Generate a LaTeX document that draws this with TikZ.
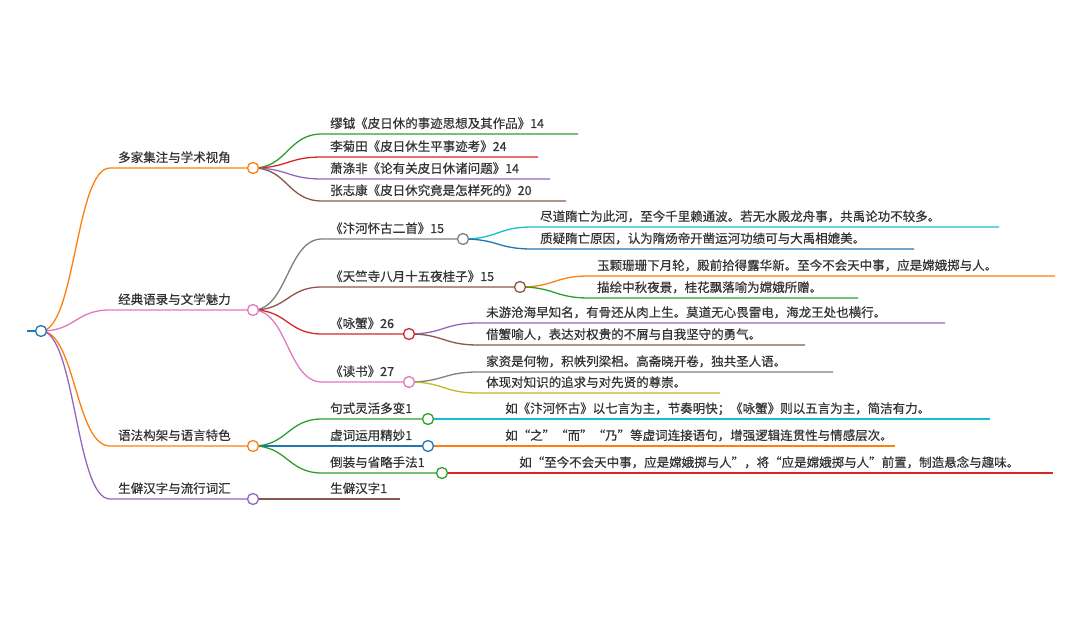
\documentclass[tikz,border=0pt]{standalone}
\usepackage{fontspec}
\setmainfont{Noto Sans CJK SC}[FakeBold=0.5]
\definecolor{cblue}{HTML}{1F77B4}
\definecolor{corange}{HTML}{FF7F0E}
\definecolor{cgreen}{HTML}{2CA02C}
\definecolor{cred}{HTML}{D62728}
\definecolor{cpurple}{HTML}{9467BD}
\definecolor{cbrown}{HTML}{8C564B}
\definecolor{cpink}{HTML}{E377C2}
\definecolor{cgray}{HTML}{7F7F7F}
\definecolor{colive}{HTML}{BCBD22}
\definecolor{ccyan}{HTML}{17BECF}
\definecolor{ink}{HTML}{333333}
\begin{document}
\begin{tikzpicture}[x=1pt,y=-1pt,
  edge/.style={line width=1.3pt},
  lbl/.style={anchor=base west,inner sep=0pt,text=ink,font=\fontsize{12.5}{14}\selectfont},
  dot/.style={circle,draw=#1,fill=white,line width=1.3pt,minimum size=11pt,inner sep=0pt}]
\useasboundingbox (0,0) rectangle (1080,617);

% root
\coordinate (r0) at (27,331);
\coordinate (r) at (41,331);
\draw[edge,cblue] (r0) -- (r);

% first level
\coordinate (a0) at (110,168); \coordinate (a) at (253,168);
\coordinate (b0) at (110,310); \coordinate (b) at (253,310);
\coordinate (c0) at (110,446); \coordinate (c) at (253,446);
\coordinate (d0) at (110,499); \coordinate (d) at (253,499);
\draw[edge,corange] (r) .. controls +(34.5,0) and +(-34.5,0) .. (a0) -- (a);
\draw[edge,cpink] (r) .. controls +(34.5,0) and +(-34.5,0) .. (b0) -- (b);
\draw[edge,corange] (r) .. controls +(34.5,0) and +(-34.5,0) .. (c0) -- (c);
\draw[edge,cpurple] (r) .. controls +(34.5,0) and +(-34.5,0) .. (d0) -- (d);
\node[lbl] (ta) at ([shift={(8,-6)}]a0) {多家集注与学术视角};
\node[lbl] (tb) at ([shift={(8,-6)}]b0) {经典语录与文学魅力};
\node[lbl] (tc) at ([shift={(8,-6)}]c0) {语法构架与语言特色};
\node[lbl] (td) at ([shift={(8,-6)}]d0) {生僻汉字与流行词汇};

% 多家集注
\coordinate (a1s) at (322,134); \coordinate (a1e) at (578,134);
\coordinate (a2s) at (322,157); \coordinate (a2e) at (538,157);
\coordinate (a3s) at (322,179); \coordinate (a3e) at (550,179);
\coordinate (a4s) at (322,201); \coordinate (a4e) at (566,201);
\draw[edge,cgreen] (a) .. controls +(34.5,0) and +(-34.5,0) .. (a1s) -- (a1e);
\draw[edge,cred] (a) .. controls +(34.5,0) and +(-34.5,0) .. (a2s) -- (a2e);
\draw[edge,cpurple] (a) .. controls +(34.5,0) and +(-34.5,0) .. (a3s) -- (a3e);
\draw[edge,cbrown] (a) .. controls +(34.5,0) and +(-34.5,0) .. (a4s) -- (a4e);
\node[lbl] (a1) at ([shift={(8,-6)}]a1s) {缪钺《皮日休的事迹思想及其作品》14};
\node[lbl] (a2) at ([shift={(8,-6)}]a2s) {李菊田《皮日休生平事迹考》24};
\node[lbl] (a3) at ([shift={(8,-6)}]a3s) {萧涤非《论有关皮日休诸问题》14};
\node[lbl] (a4) at ([shift={(8,-6)}]a4s) {张志康《皮日休究竟是怎样死的》20};

% 经典语录
\coordinate (b1s) at (322,239); \coordinate (b1) at (463,239);
\coordinate (b2s) at (322,287); \coordinate (b2) at (520,287);
\coordinate (b3s) at (322,334); \coordinate (b3) at (409,334);
\coordinate (b4s) at (322,382); \coordinate (b4) at (409,382);
\draw[edge,cgray] (b) .. controls +(34.5,0) and +(-34.5,0) .. (b1s) -- (b1);
\draw[edge,cbrown] (b) .. controls +(34.5,0) and +(-34.5,0) .. (b2s) -- (b2);
\draw[edge,cred] (b) .. controls +(34.5,0) and +(-34.5,0) .. (b3s) -- (b3);
\draw[edge,cpink] (b) .. controls +(34.5,0) and +(-34.5,0) .. (b4s) -- (b4);
\node[lbl] (tb1) at ([shift={(8,-6)}]b1s) {《汴河怀古二首》15};
\node[lbl] (tb2) at ([shift={(8,-6)}]b2s) {《天竺寺八月十五夜桂子》15};
\node[lbl] (tb3) at ([shift={(8,-6)}]b3s) {《咏蟹》26};
\node[lbl] (tb4) at ([shift={(8,-6)}]b4s) {《读书》27};

\coordinate (b11s) at (532,227); \coordinate (b11e) at (999,227);
\coordinate (b12s) at (532,249); \coordinate (b12e) at (914,249);
\coordinate (b21s) at (589,276); \coordinate (b21e) at (1055,276);
\coordinate (b22s) at (589,298); \coordinate (b22e) at (858,298);
\coordinate (b31s) at (478,323); \coordinate (b31e) at (945,323);
\coordinate (b32s) at (478,345); \coordinate (b32e) at (805,345);
\coordinate (b41s) at (478,372); \coordinate (b41e) at (833,372);
\coordinate (b42s) at (478,393); \coordinate (b42e) at (720,393);
\draw[edge,ccyan] (b1) .. controls +(34.5,0) and +(-34.5,0) .. (b11s) -- (b11e);
\draw[edge,cblue] (b1) .. controls +(34.5,0) and +(-34.5,0) .. (b12s) -- (b12e);
\draw[edge,corange] (b2) .. controls +(34.5,0) and +(-34.5,0) .. (b21s) -- (b21e);
\draw[edge,cgreen] (b2) .. controls +(34.5,0) and +(-34.5,0) .. (b22s) -- (b22e);
\draw[edge,cpurple] (b3) .. controls +(34.5,0) and +(-34.5,0) .. (b31s) -- (b31e);
\draw[edge,cbrown] (b3) .. controls +(34.5,0) and +(-34.5,0) .. (b32s) -- (b32e);
\draw[edge,cgray] (b4) .. controls +(34.5,0) and +(-34.5,0) .. (b41s) -- (b41e);
\draw[edge,colive] (b4) .. controls +(34.5,0) and +(-34.5,0) .. (b42s) -- (b42e);
\node[lbl] (b11) at ([shift={(8,-6)}]b11s) {尽道隋亡为此河，至今千里赖通波。若无水殿龙舟事，共禹论功不较多。};
\node[lbl] (b12) at ([shift={(8,-6)}]b12s) {质疑隋亡原因，认为隋炀帝开凿运河功绩可与大禹相媲美。};
\node[lbl] (b21) at ([shift={(8,-6)}]b21s) {玉颗珊珊下月轮，殿前拾得露华新。至今不会天中事，应是嫦娥掷与人。};
\node[lbl] (b22) at ([shift={(8,-6)}]b22s) {描绘中秋夜景，桂花飘落喻为嫦娥所赠。};
\node[lbl] (b31) at ([shift={(8,-6)}]b31s) {未游沧海早知名，有骨还从肉上生。莫道无心畏雷电，海龙王处也横行。};
\node[lbl] (b32) at ([shift={(8,-6)}]b32s) {借蟹喻人，表达对权贵的不屑与自我坚守的勇气。};
\node[lbl] (b41) at ([shift={(8,-6)}]b41s) {家资是何物，积帙列梁梠。高斋晓开卷，独共圣人语。};
\node[lbl] (b42) at ([shift={(8,-6)}]b42s) {体现对知识的追求与对先贤的尊崇。};

% 语法构架
\coordinate (c1s) at (322,419); \coordinate (c1) at (428,419);
\coordinate (c2s) at (322,446); \coordinate (c2) at (428,446);
\coordinate (c3s) at (322,473); \coordinate (c3) at (442,473);
\draw[edge,cgreen] (c) .. controls +(34.5,0) and +(-34.5,0) .. (c1s) -- (c1);
\draw[edge,cblue] (c) -- (c2s) -- (c2);
\draw[edge,cgreen] (c) .. controls +(34.5,0) and +(-34.5,0) .. (c3s) -- (c3);
\node[lbl] (tc1) at ([shift={(8,-6)}]c1s) {句式灵活多变1};
\node[lbl] (tc2) at ([shift={(8,-6)}]c2s) {虚词运用精妙1};
\node[lbl] (tc3) at ([shift={(8,-6)}]c3s) {倒装与省略手法1};
\coordinate (c11s) at (497,419); \coordinate (c11e) at (990,419);
\coordinate (c21s) at (497,446); \coordinate (c21e) at (895,446);
\coordinate (c31s) at (511,473); \coordinate (c31e) at (1053,473);
\draw[edge,ccyan] (c1) -- (c11s) -- (c11e);
\draw[edge,corange] (c2) -- (c21s) -- (c21e);
\draw[edge,cred] (c3) -- (c31s) -- (c31e);
\node[lbl] (c11) at ([shift={(8,-6)}]c11s) {如《汴河怀古》以七言为主，节奏明快；《咏蟹》则以五言为主，简洁有力。};
\node[lbl] (c21) at ([shift={(8,-6)}]c21s) {如“之”“而”“乃”等虚词连接语句，增强逻辑连贯性与情感层次。};
\node[lbl] (c31) at ([shift={(8,-6)}]c31s) {如“至今不会天中事，应是嫦娥掷与人”，将“应是嫦娥掷与人”前置，制造悬念与趣味。};

% 生僻汉字
\coordinate (d1s) at (322,499); \coordinate (d1e) at (400,499);
\draw[edge,cbrown] (d) -- (d1s) -- (d1e);
\node[lbl] (d1) at ([shift={(8,-6)}]d1s) {生僻汉字1};

% circles on top
\node[dot=cblue] at (r) {};
\node[dot=corange] at (a) {};
\node[dot=cpink] at (b) {};
\node[dot=corange] at (c) {};
\node[dot=cpurple] at (d) {};
\node[dot=cgray] at (b1) {};
\node[dot=cbrown] at (b2) {};
\node[dot=cred] at (b3) {};
\node[dot=cpink] at (b4) {};
\node[dot=cgreen] at (c1) {};
\node[dot=cblue] at (c2) {};
\node[dot=cgreen] at (c3) {};
\end{tikzpicture}
\end{document}
